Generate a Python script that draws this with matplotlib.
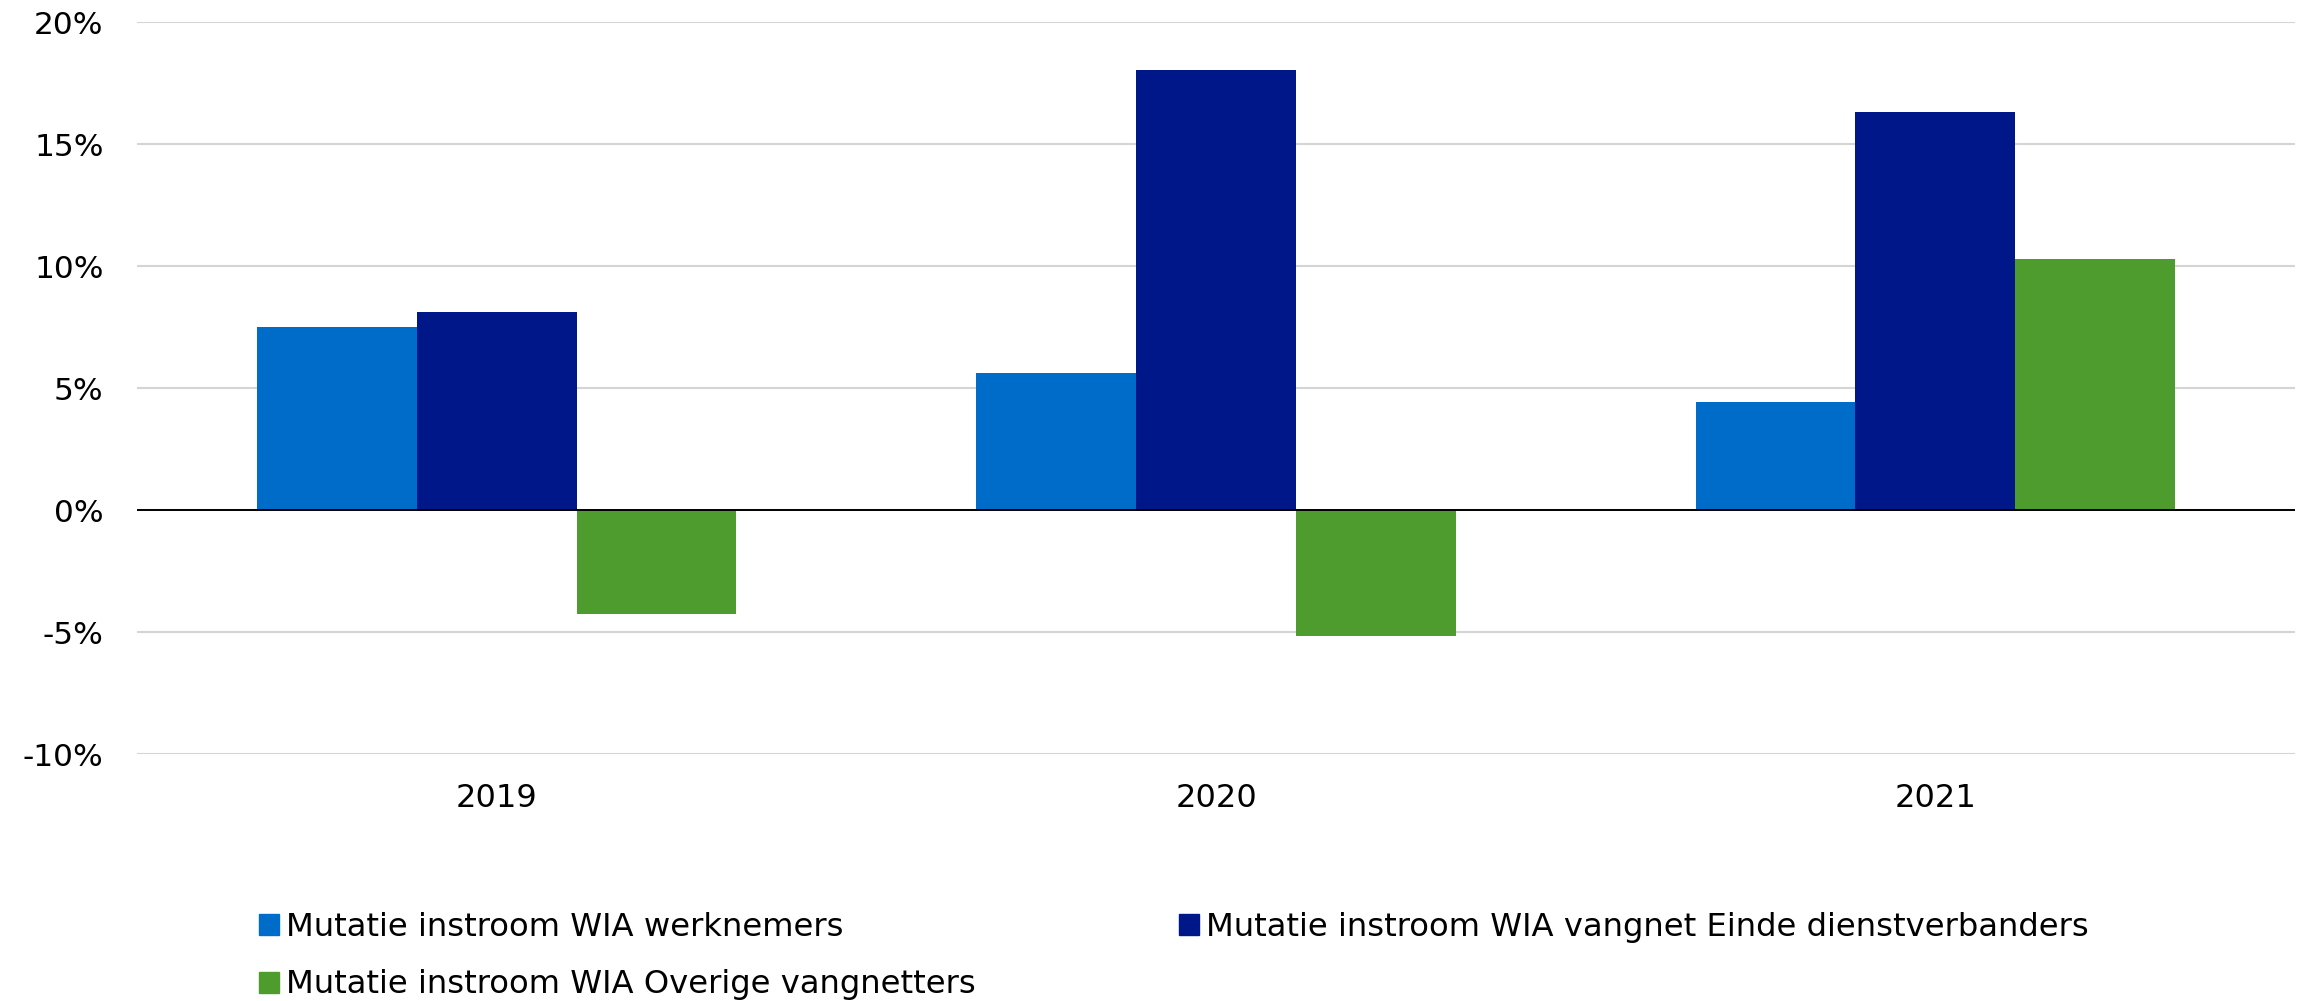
import matplotlib
matplotlib.use('Agg')
import matplotlib.pyplot as plt
import numpy as np
from matplotlib.patches import Patch

# data (percent change)
years = ['2019', '2020', '2021']
werknemers = [7.52, 5.63, 4.44]
vangnet_einde = [8.13, 18.03, 16.32]
overige_vangnetters = [-4.28, -5.18, 10.30]

labels = ['Mutatie instroom WIA werknemers',
          'Mutatie instroom WIA vangnet Einde dienstverbanders',
          'Mutatie instroom WIA Overige vangnetters']
colors = ['#006CC9', '#001789', '#4F9C2E']
yticks = [-10, -5, 0, 5, 10, 15, 20]

plt.rcParams['font.family'] = ['DejaVu Sans']

W, H = 2305, 1001
fig = plt.figure(figsize=(W / 100, H / 100), dpi=100)
ax = fig.add_axes([137 / W, 1 - 754 / H, (2295 - 137) / W, (754 - 22.3) / H])

x = np.arange(len(years))
w = 2 / 9  # gap width 50%
series = [werknemers, vangnet_einde, overige_vangnetters]
for i, (vals, c) in enumerate(zip(series, colors)):
    ax.bar(x + (i - 1) * w, vals, width=w, color=c, linewidth=0, zorder=2)

ax.set_xlim(-0.5, 2.5)
ax.set_ylim(-10, 20)
ax.set_yticks(yticks)
ax.set_yticklabels([f'{v}%' for v in yticks])
ax.set_xticks(x)
ax.set_xticklabels(years)
ax.tick_params(axis='y', length=0, pad=24, labelsize=22.5)
ax.tick_params(axis='x', length=0, pad=21, labelsize=23)
for s in ax.spines.values():
    s.set_visible(False)
ax.yaxis.grid(True, color='#D4D4D4', linewidth=1.5, zorder=0)
ax.set_axisbelow(True)
ax.axhline(0, color='black', linewidth=1.4, zorder=3)

# legend: row-major in the reference, so reorder for column filling
handles = [Patch(color=c) for c in colors]
order = [0, 2, 1]
fig.legend([handles[i] for i in order], [labels[i] for i in order],
           loc='upper left', bbox_to_anchor=(259 / W, 1 - 912 / H),
           ncol=2, frameon=False, fontsize=23.2,
           handlelength=0.62, handleheight=0.62, handletextpad=0.22,
           columnspacing=6.3, labelspacing=0.82,
           borderpad=0, borderaxespad=0)

fig.savefig('out.png', dpi=100)
